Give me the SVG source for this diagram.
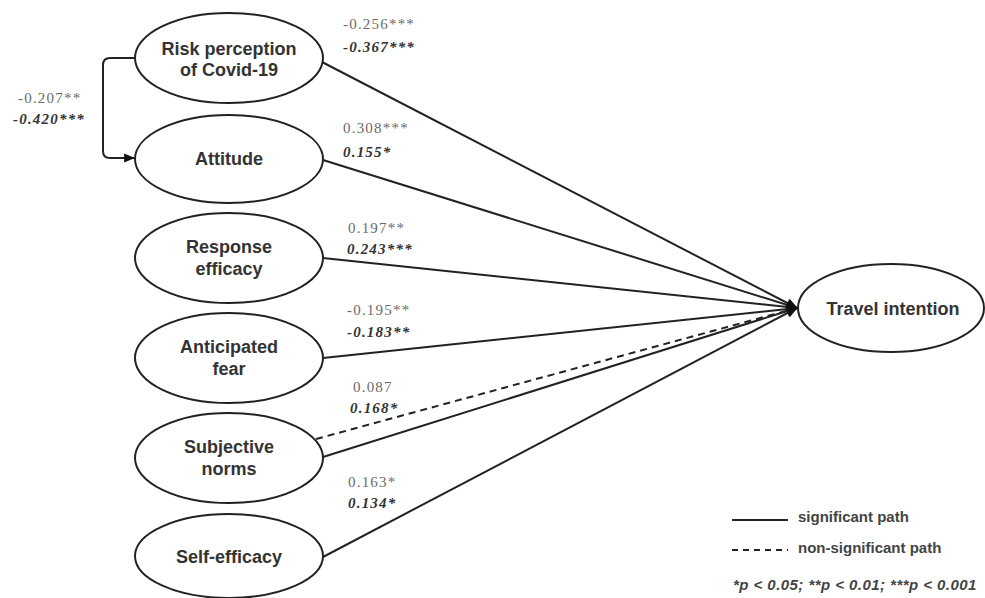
<svg xmlns="http://www.w3.org/2000/svg" width="985" height="598" viewBox="0 0 985 598">
<style>
.node ellipse{fill:#fff;stroke:#222;stroke-width:2}
.lbl{font-family:"Liberation Sans",Arial,sans-serif;font-weight:bold;font-size:18px;fill:#333;text-anchor:middle}
.c1{font-family:"Liberation Serif","Times New Roman",serif;font-size:15px;fill:#6a6a6a;letter-spacing:1.2px}
.c2{font-family:"Liberation Serif","Times New Roman",serif;font-size:15px;font-weight:bold;font-style:italic;fill:#333;letter-spacing:1.2px}
.edge{fill:none;stroke:#222;stroke-width:2}
.dash{stroke-dasharray:7 5}
.leg{font-family:"Liberation Sans",Arial,sans-serif;font-weight:bold;font-size:15px;fill:#444}
</style>
<defs>
<marker id="arr" viewBox="0 0 10 10" refX="9" refY="5" markerWidth="11" markerHeight="11" markerUnits="userSpaceOnUse" orient="auto">
<path d="M0,1 L10,5 L0,9 z" fill="#111"/>
</marker>
<marker id="arrb" viewBox="0 0 10 10" refX="9" refY="5" markerWidth="12" markerHeight="12" markerUnits="userSpaceOnUse" orient="auto">
<path d="M0,1 L10,5 L0,9 z" fill="#111"/>
</marker>
</defs>
<rect width="985" height="598" fill="#fff"/>
<g id="connectors">
<path class="edge" d="M135,58 H110 Q103,58 103,65 V151 Q103,158 110,158 H134" marker-end="url(#arr)"/>
<line class="edge" x1="322" y1="62" x2="797" y2="308" marker-end="url(#arrb)"/>
<line class="edge" x1="323" y1="160" x2="797" y2="308" marker-end="url(#arrb)"/>
<line class="edge" x1="323" y1="258" x2="797" y2="308" marker-end="url(#arrb)"/>
<line class="edge" x1="323" y1="358" x2="797" y2="308" marker-end="url(#arrb)"/>
<line class="edge dash" x1="316" y1="439" x2="797" y2="308" marker-end="url(#arrb)"/>
<line class="edge" x1="323" y1="457" x2="797" y2="308" marker-end="url(#arrb)"/>
<line class="edge" x1="323" y1="557" x2="797" y2="308" marker-end="url(#arrb)"/>
</g>
<g id="coefs">
<text class="c1" x="343" y="29">-0.256***</text>
<text class="c2" x="343" y="52">-0.367***</text>
<text class="c1" x="18" y="103">-0.207**</text>
<text class="c2" x="13" y="124">-0.420***</text>
<text class="c1" x="343" y="133">0.308***</text>
<text class="c2" x="343" y="157">0.155*</text>
<text class="c1" x="348" y="233">0.197**</text>
<text class="c2" x="347" y="254">0.243***</text>
<text class="c1" x="347" y="315">-0.195**</text>
<text class="c2" x="347" y="337">-0.183**</text>
<text class="c1" x="353" y="392">0.087</text>
<text class="c2" x="350" y="413">0.168*</text>
<text class="c1" x="348" y="487">0.163*</text>
<text class="c2" x="348" y="508">0.134*</text>
</g>
<g id="risk" class="node">
<ellipse cx="229" cy="58" rx="94" ry="45"/>
<text class="lbl" x="229" y="55">Risk perception</text>
<text class="lbl" x="229" y="76">of Covid-19</text>
</g>
<g id="attitude" class="node">
<ellipse cx="229" cy="159" rx="94" ry="44"/>
<text class="lbl" x="229" y="165">Attitude</text>
</g>
<g id="response" class="node">
<ellipse cx="229" cy="258" rx="94" ry="45"/>
<text class="lbl" x="229" y="253">Response</text>
<text class="lbl" x="229" y="275">efficacy</text>
</g>
<g id="fear" class="node">
<ellipse cx="229" cy="358" rx="94" ry="45"/>
<text class="lbl" x="229" y="353">Anticipated</text>
<text class="lbl" x="229" y="375">fear</text>
</g>
<g id="norms" class="node">
<ellipse cx="229" cy="458" rx="94" ry="45"/>
<text class="lbl" x="229" y="453">Subjective</text>
<text class="lbl" x="229" y="475">norms</text>
</g>
<g id="selfefficacy" class="node">
<ellipse cx="229" cy="556" rx="94" ry="42"/>
<text class="lbl" x="229" y="563">Self-efficacy</text>
</g>
<g id="travel" class="node">
<ellipse cx="891" cy="308" rx="93" ry="44"/>
<text class="lbl" x="893" y="315">Travel intention</text>
</g>
<g id="legend">
<line class="edge" x1="732" y1="520" x2="788" y2="520"/>
<text class="leg" x="798" y="522">significant path</text>
<line class="edge" x1="732" y1="550" x2="788" y2="550" stroke-dasharray="6 5"/>
<text class="leg" x="798" y="553">non-significant path</text>
<text class="leg" x="733" y="590" font-style="italic" font-size="16" letter-spacing="0.45">*p &lt; 0.05; **p &lt; 0.01; ***p &lt; 0.001</text>
</g>
</svg>
